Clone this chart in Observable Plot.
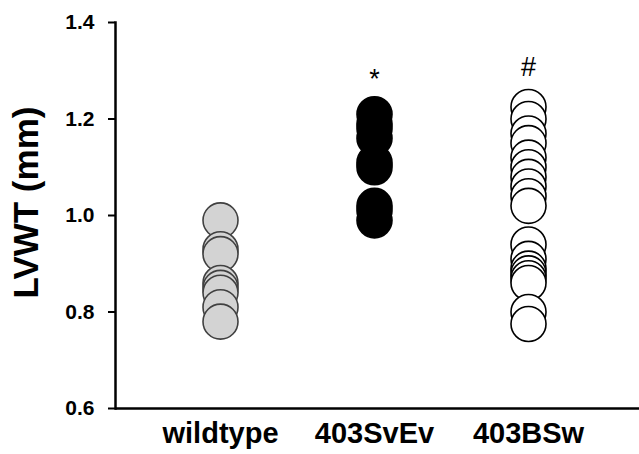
<!DOCTYPE html>
<html>
<head>
<meta charset="utf-8">
<script src="https://cdn.jsdelivr.net/npm/d3@7"></script>
<script src="https://cdn.jsdelivr.net/npm/@observablehq/plot@0.6"></script>
<style>
  html, body { margin: 0; padding: 0; background: #fff; }
  #chart svg { font-family: "Liberation Sans", Arial, sans-serif; }
</style>
</head>
<body>
<div id="chart"></div>
<script>
const categories = ["wildtype", "403SvEv", "403BSw"];
const wildtype = [0.99, 0.93, 0.92, 0.86, 0.85, 0.84, 0.81, 0.78];
const svEv = [1.21, 1.19, 1.18, 1.16, 1.11, 1.10, 1.02, 1.01, 0.99];
const bsw = [1.225, 1.20, 1.17, 1.15, 1.12, 1.10, 1.08, 1.06, 1.04, 1.02,
             0.94, 0.91, 0.89, 0.88, 0.87, 0.86, 0.80, 0.775];
const yTicks = [0.6, 0.8, 1.0, 1.2, 1.4];
const annotations = [
  {group: "403SvEv", label: "*", value: 1.265},
  {group: "403BSw", label: "#", value: 1.29}
];

const rows = [
  ...wildtype.map(v => ({group: "wildtype", value: v})),
  ...svEv.map(v => ({group: "403SvEv", value: v})),
  ...bsw.map(v => ({group: "403BSw", value: v}))
];
const fills = {wildtype: "#d3d3d3", "403SvEv": "#000000", "403BSw": "#ffffff"};
const strokes = {wildtype: "#404040", "403SvEv": "#000000", "403BSw": "#000000"};

const font = "Liberation Sans, Arial, sans-serif";

const chart = Plot.plot({
  width: 639,
  height: 454,
  marginLeft: 115,
  marginRight: 0,
  marginTop: 22,
  marginBottom: 46,
  style: {fontFamily: font, background: "#fff", color: "#000"},
  x: {type: "point", domain: categories, range: [220, 528], padding: 0},
  y: {domain: [0.6, 1.4]},
  marks: [
    Plot.axisY({ticks: yTicks, tickFormat: d => d.toFixed(1), tickSize: 7, tickPadding: 14,
      fontSize: 21, fontWeight: "bold", fontFamily: font, label: null, strokeWidth: 2}),
    Plot.axisX({tickSize: 0, tickPadding: 14, fontSize: 29, fontWeight: "bold", fontFamily: font, label: null}),
    Plot.frame({anchor: "left", strokeWidth: 2.5}),
    Plot.ruleY([0.6], {strokeWidth: 2.5}),
    Plot.dot(rows, {x: "group", y: "value", r: 17.5,
      fill: d => fills[d.group], stroke: d => strokes[d.group], strokeWidth: 1.6}),
    Plot.text(annotations, {x: "group", y: "value", text: "label", fontSize: 27,
      fontFamily: font, lineAnchor: "bottom"}),
    Plot.text(["LVWT (mm)"], {frameAnchor: "left", textAnchor: "middle", dx: -89, dy: -13, rotate: -90,
      fontSize: 35, fontWeight: "bold", fontFamily: font})
  ]
});
document.getElementById("chart").appendChild(chart);
</script>
</body>
</html>
